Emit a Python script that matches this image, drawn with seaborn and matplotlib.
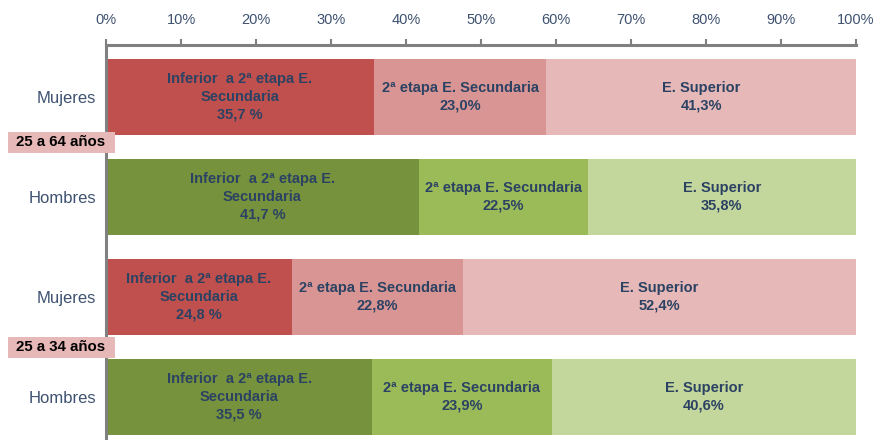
import matplotlib
matplotlib.use('Agg')
import seaborn as sns
import matplotlib.pyplot as plt
import matplotlib.transforms as mtransforms
from matplotlib.patches import Rectangle
import pandas as pd

# --- data ---
rows = ['M64', 'H64', 'M34', 'H34']
row_labels = ['Mujeres', 'Hombres', 'Mujeres', 'Hombres']
inferior = [35.7, 41.7, 24.8, 35.5]
secundaria = [23.0, 22.5, 22.8, 23.9]
superior = [41.3, 35.8, 52.4, 40.6]
pct_inferior = ['35,7 %', '41,7 %', '24,8 %', '35,5 %']
pct_secundaria = ['23,0%', '22,5%', '22,8%', '23,9%']
pct_superior = ['41,3%', '35,8%', '52,4%', '40,6%']
seg_names = ['Inferior  a 2ª etapa E.\nSecundaria', '2ª etapa E. Secundaria', 'E. Superior']
age_groups = ['25 a 64 años', '25 a 34 años']
age_group_pos = [0.45, 2.5]
xticks = list(range(0, 101, 10))

reds = ['#C0504D', '#D99594', '#E6B8B7']
greens = ['#76923C', '#9BBB59', '#C3D69B']
text_col = '#2B4263'
axis_col = '#808080'

sns.set_style('white')
plt.rcParams['font.family'] = ['Liberation Sans', 'DejaVu Sans']

df = pd.DataFrame({'row': rows, 'inf': inferior, 'sec': secundaria, 'sup': superior})
df['c1'] = df['inf']
df['c2'] = df['inf'] + df['sec']
df['c3'] = df['inf'] + df['sec'] + df['sup']

fig = plt.figure(figsize=(8.82, 4.40), dpi=100)
ax = fig.add_axes([106 / 882, 0, 750 / 882, 1 - 45 / 440])

# stacked bars: draw cumulative totals from longest to shortest
for level, col in [(2, 'c3'), (1, 'c2'), (0, 'c1')]:
    pal = {r: (reds if r.startswith('M') else greens)[level] for r in rows}
    sns.barplot(data=df, x=col, y='row', hue='row', palette=pal, orient='h',
                width=0.76, legend=False, saturation=1, linewidth=0, ax=ax)

# segment labels
for i in range(len(rows)):
    lefts = [0, inferior[i], inferior[i] + secundaria[i]]
    widths = [inferior[i], secundaria[i], superior[i]]
    labels = [seg_names[0] + '\n' + pct_inferior[i],
              seg_names[1] + '\n' + pct_secundaria[i],
              seg_names[2] + '\n' + pct_superior[i]]
    for l, w, t in zip(lefts, widths, labels):
        ax.text(l + w / 2, i, t, ha='center', va='center', fontsize=10.5,
                fontweight='bold', color=text_col, linespacing=1.35)

ax.set_xlim(0, 100)
ax.set_ylim(3.43, -0.52)
ax.xaxis.tick_top()
ax.set_xticks(xticks)
ax.set_xticklabels([f'{t}%' for t in xticks])
ax.set_yticks(range(len(rows)))
ax.set_yticklabels(row_labels)
ax.set_xlabel('')
ax.set_ylabel('')
ax.tick_params(axis='x', direction='out', length=4, width=1.5, color=axis_col,
               pad=9, labelsize=10.5, labelcolor='#3F5270')
ax.tick_params(axis='y', length=0, pad=7, labelsize=12, labelcolor='#3F5270')

for s in ['right', 'bottom']:
    ax.spines[s].set_visible(False)
for s in ['top', 'left']:
    ax.spines[s].set_color(axis_col)
    ax.spines[s].set_linewidth(2.2)

# age group boxes (x in figure coords, y in data coords)
trans = mtransforms.blended_transform_factory(fig.transFigure, ax.transData)
for label, y in zip(age_groups, age_group_pos):
    ax.add_patch(Rectangle((8 / 882, y - 0.105), 107 / 882, 0.21, transform=trans,
                           facecolor='#E6B8B7', edgecolor='none', clip_on=False, zorder=5))
    ax.text(61 / 882, y, label, transform=trans, ha='center', va='center',
            fontsize=10.8, fontweight='bold', color='black', zorder=6)

fig.savefig('out.png', dpi=100)
